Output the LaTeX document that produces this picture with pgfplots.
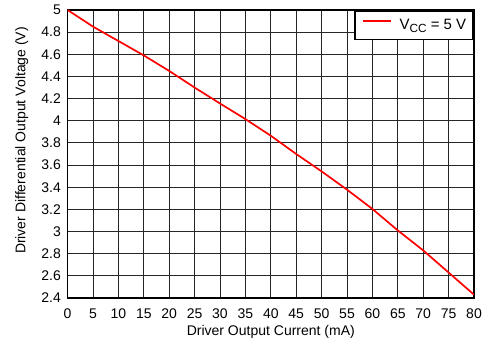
\documentclass[border=0pt]{standalone}
\usepackage{fontspec}
\setmainfont{Liberation Sans}
\usepackage{pgfplots}
\pgfplotsset{compat=1.18}
\definecolor{tired}{RGB}{255,0,0}
\begin{document}
\begin{tikzpicture}
\begin{axis}[
  name=ax,
  scale only axis,
  width=406.4pt, height=288pt,
  font=\fontsize{14}{16.8}\selectfont,
  xmin=0, xmax=80, ymin=2.4, ymax=5,
  xtick={0,5,...,80},
  ytick={2.4,2.6,2.8,3,3.2,3.4,3.6,3.8,4,4.2,4.4,4.6,4.8,5},
  yticklabels={2.4,2.6,2.8,3,3.2,3.4,3.6,3.8,4,4.2,4.4,4.6,4.8,5},
  /pgf/number format/assume math mode=true,
  major tick length=0pt,
  grid=major,
  major grid style={black!85, line width=0.9pt},
  axis line style={black, line width=1.6pt},
  xticklabel style={inner sep=0pt, yshift=-11pt},
  yticklabel style={inner sep=0pt, xshift=-6.6pt},
  xlabel={Driver Output Current (mA)},
  ylabel={Driver Differential Output Voltage (V)},
  every axis x label/.style={at={(rel axis cs:0.5,0)}, anchor=north, inner sep=0pt, yshift=-27.5pt},
  every axis y label/.style={at={([xshift=-52.6pt,yshift=13.5pt]rel axis cs:0,0.5)}, rotate=90, anchor=north, inner sep=0pt},
  legend style={at={(1,1)}, anchor=north east, draw=black, line width=1.6pt,
    inner xsep=7pt, inner ysep=8.5pt, font=\fontsize{15}{18}\selectfont,
    nodes={inner sep=0pt},
    /tikz/every odd column/.append style={column sep=8pt}},
  legend image code/.code={\draw[tired, line width=1.6pt] (0pt,4pt) -- (28pt,4pt);},
]
\addplot[tired, line width=1.7pt] coordinates {
(0,5.00) (5,4.85) (10,4.72) (15,4.59) (20,4.45) (25,4.30) (30,4.156)
(35,4.015) (40,3.865) (45,3.70) (50,3.543) (55,3.378) (60,3.204)
(65,3.01) (70,2.83) (75,2.63) (80,2.43)
};
\addlegendentry{V\raisebox{-2.5pt}{\fontsize{11.8}{12}\selectfont CC} = 5 V}
\coordinate (bl) at (rel axis cs:0,0);
\coordinate (tr) at (rel axis cs:1,1);
\node[anchor=north west, inner sep=0pt, text=black!30, font=\fontsize{10}{12}\selectfont, xshift=-3pt, yshift=-39pt] at (rel axis cs:1,0) {D002};
\end{axis}
\pgfresetboundingbox
\path ([shift={(-67.6pt,-49pt)}]bl) rectangle ([shift={(20pt,10pt)}]tr);
\end{tikzpicture}
\end{document}
